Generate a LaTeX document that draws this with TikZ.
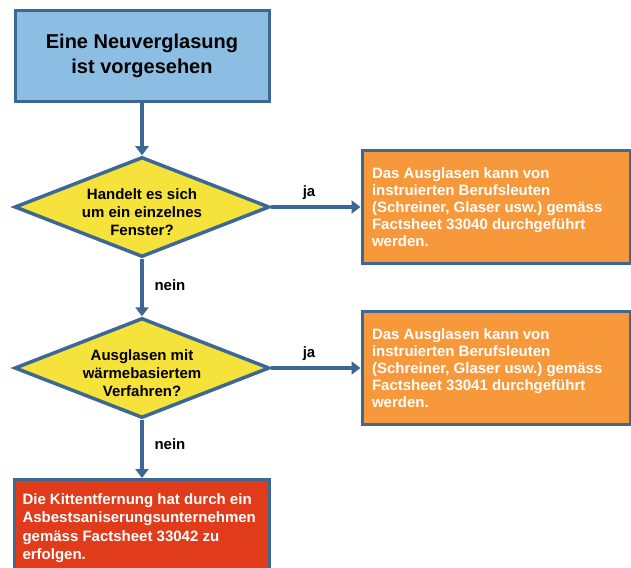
\documentclass[tikz,border=0pt]{standalone}
\usepackage{fontspec}
\setmainfont{Liberation Sans}
\usepackage{xcolor}
\usetikzlibrary{shapes.geometric, arrows.meta, positioning, calc}
\frenchspacing
\definecolor{lineblue}{RGB}{61,103,148}
\definecolor{startblue}{RGB}{140,190,228}
\definecolor{askyellow}{RGB}{245,226,58}
\definecolor{doorange}{RGB}{247,152,58}
\definecolor{stopred}{RGB}{224,60,28}
\tikzstyle{startbox} = [rectangle, draw=lineblue, line width=3pt, fill=startblue, minimum width=254pt, minimum height=91pt, align=center, font=\bfseries\fontsize{20}{25}\selectfont]
\tikzstyle{decision} = [diamond, draw=lineblue, line width=3.5pt, fill=askyellow, minimum width=255pt, minimum height=100pt, inner sep=0pt]
\tikzstyle{decisiontext} = [align=center, font=\bfseries\fontsize{15}{18}\selectfont]
\tikzstyle{actionbox} = [rectangle, draw=lineblue, line width=3pt, fill=doorange, text=white, text width=248pt, inner xsep=10pt, minimum height=113pt, align=flush left, font=\bfseries\fontsize{15}{17}\selectfont]
\tikzstyle{stopbox} = [rectangle, draw=lineblue, line width=3pt, fill=stopred, text=white, text width=239pt, inner xsep=8pt, inner ysep=14pt, align=flush left, font=\bfseries\fontsize{15}{18.5}\selectfont]
\tikzstyle{answer} = [font=\bfseries\fontsize{15}{18}\selectfont]
\tikzstyle{arrow} = [line width=3.5pt, draw=lineblue, -{Triangle[length=9pt,width=13pt]}]

\begin{document}
\begin{tikzpicture}[x=1pt, y=-1pt]
        \useasboundingbox (0,0) rectangle (631,567);
        \clip (0,0) rectangle (631,567);

        % Start
        \node[startbox] (start) at (142,56) {Eine Neuverglasung\\ist vorgesehen};

        % Questions and actions (y positions)
        \foreach \n/\y/\question/\sheet in {
          1/207/{Handelt es sich\\um ein einzelnes\\Fenster?}/33040,
          2/368/{Ausglasen mit\\wärmebasiertem\\Verfahren?}/33041}{
          \node[decision] (q\n) at (142,\y) {};
          \node[decisiontext, yshift=-5pt] (qtext\n) at (q\n) {\question};
          \node[actionbox] (act\n) at (496,\y) {Das Ausglasen kann von\\instruierten Berufsleuten\\(Schreiner, Glaser usw.) gemäss\\Factsheet \sheet\ durchgeführt\\werden.};
          \draw[arrow] (q\n.east) -- (act\n.west);
          \node[answer] (ja\n) at (309,\y-14) {ja};
        }

        % Stop
        \node[stopbox, anchor=north] (stop) at (142,478) {Die Kittentfernung hat durch ein\\Asbestsaniserungsunternehmen\\gemäss Factsheet 33042 zu\\erfolgen.};

        % Connectors
        \draw[arrow] (start) -- (q1);
        \draw[arrow] (q1) -- (q2);
        \draw[arrow] (q2) -- (stop);
        \node[answer, anchor=west] (nein1) at (151,285) {nein};
        \node[answer, anchor=west] (nein2) at (151,444) {nein};
      \end{tikzpicture}
\end{document}
